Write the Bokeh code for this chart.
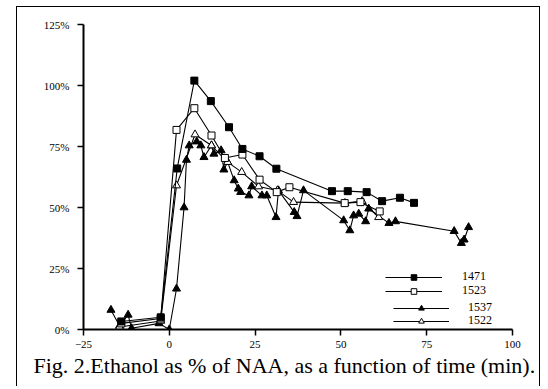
from bokeh.plotting import figure
from bokeh.models import Legend, LegendItem, Title, FixedTicker, Range1d
from bokeh.embed import file_html
from bokeh.resources import INLINE

# ---- data (time in min, ethanol as % of NAA) ----
t_1471 = [-14, -2.5, 2.3, 7.3, 12.1, 17.4, 21.3, 26.3, 31.2, 47.4, 52.0, 57.5, 62.0, 67.2, 71.3]
v_1471 = [3.3, 5.0, 66, 102, 93.6, 82.9, 74.0, 71.0, 65.9, 56.7, 56.7, 56.3, 52.6, 54.0, 51.9]

t_1523 = [-14, -2.5, 2.1, 7.3, 12.3, 16.2, 21.3, 26.3, 31.3, 35.0, 51.1, 55.7, 61.3]
v_1523 = [2.5, 4.5, 81.8, 90.7, 79.5, 70.3, 71.7, 61.4, 56.3, 58.3, 51.8, 52.2, 48.4]

t_1537 = [-17, -14.5, -12, -11, -3, 0, 2.1, 4.3, 5.0, 5.8, 8.0, 9.2, 10.1, 12.3, 13.0, 15.1,
          15.9, 17.0, 18.9, 20.1, 20.8, 23.2, 24.0, 27.0, 28.4, 31.1, 31.8, 36.4, 37.2, 39.1,
          50.8, 52.6, 53.7, 55.2, 57.2, 58.1, 64.0, 65.9, 83.0, 85.1, 85.9, 87.2]
v_1537 = [8, 1.5, 6, 0.5, 2.5, 0, 16.7, 50, 69.5, 75.4, 77, 75.4, 70.6, 75.4, 72, 73.4,
          65.5, 68.6, 61.1, 57.7, 56.3, 54.9, 58.6, 54.9, 54.9, 46, 57, 48.1, 46.4, 57,
          44.7, 40.6, 46.7, 47.4, 44.3, 49.5, 43.6, 44.3, 40.3, 35.4, 36.8, 41.9]

t_1522 = [-14.5, -2.5, 2.1, 7.5, 12.3, 17.0, 21.1, 26.0, 31.5, 36.2, 51.2, 56.2, 61.0]
v_1522 = [1.0, 3.5, 59, 79.9, 75.4, 68.6, 64.5, 58.6, 57.0, 52.2, 51.8, 52.6, 46.0]

x_ticks = [-25, 0, 25, 50, 75, 100]
y_ticks = [0, 25, 50, 75, 100, 125]
y_tick_labels = ["0%", "25%", "50%", "75%", "100%", "125%"]
caption = "Fig. 2.Ethanol as % of NAA, as a function of time (min)."

FONT = "Liberation Serif"

p = figure(width=524, height=380,
           x_range=Range1d(-25, 100), y_range=Range1d(0, 125),
           output_backend="svg", toolbar_location=None,
           min_border_left=66, min_border_right=29, min_border_top=17, min_border_bottom=58,
           styles={"margin-left": "16px", "margin-top": "6px",
                   "border-left": "1px solid black", "border-right": "1px solid black",
                   "border-top": "1px solid black"})
p.outline_line_color = None
p.xgrid.visible = False
p.ygrid.visible = False
p.background_fill_color = "white"
p.border_fill_color = "white"

for ax in (p.xaxis[0], p.yaxis[0]):
    ax.axis_line_width = 2
    ax.axis_line_color = "black"
    ax.major_tick_line_width = 1.5
    ax.major_tick_line_color = "black"
    ax.major_tick_in = 0
    ax.major_tick_out = 6
    ax.minor_tick_line_color = None
    ax.major_label_text_font = FONT
    ax.major_label_text_font_size = "11px"
    ax.major_label_text_color = "black"

p.xaxis.ticker = FixedTicker(ticks=x_ticks)
p.yaxis.ticker = FixedTicker(ticks=y_ticks)
p.yaxis.major_label_overrides = {k: v for k, v in zip(y_ticks, y_tick_labels)}
p.xaxis.major_label_standoff = 5
p.yaxis.major_label_standoff = 8

def series(t, v, marker, fill, size):
    ln = p.line(t, v, line_color="black", line_width=1.1)
    sc = p.scatter(t, v, marker=marker, size=size, fill_color=fill, line_color="black", line_width=1)
    return [ln, sc]

r1537 = series(t_1537, v_1537, "triangle", "black", 8)
r1522 = series(t_1522, v_1522, "triangle", "white", 8)
r1523 = series(t_1523, v_1523, "square", "white", 7)
r1471 = series(t_1471, v_1471, "square", "black", 7)

def make_legend(label, rends, loc, gw, standoff):
    lg = Legend(items=[LegendItem(label=label, renderers=rends)], location=loc,
                orientation="vertical", glyph_width=gw, glyph_height=14, label_height=14,
                spacing=0, padding=0, margin=0, label_standoff=standoff,
                border_line_color=None, background_fill_alpha=0,
                label_text_font=FONT, label_text_font_size="12px", label_text_color="black")
    p.add_layout(lg, "center")

make_legend("1471", r1471, (302, 45), 57, 20)
make_legend("1523", r1523, (302, 31), 57, 20)
make_legend("1537", r1537, (310, 14), 56, 19)
make_legend("1522", r1522, (310, 1), 56, 19)

title = Title(text=caption, align="left", offset=-50, standoff=0,
              text_font=FONT, text_font_size="22px", text_font_style="normal",
              text_color="black")
p.add_layout(title, "below")

open("out.html", "w").write(file_html(p, INLINE))
